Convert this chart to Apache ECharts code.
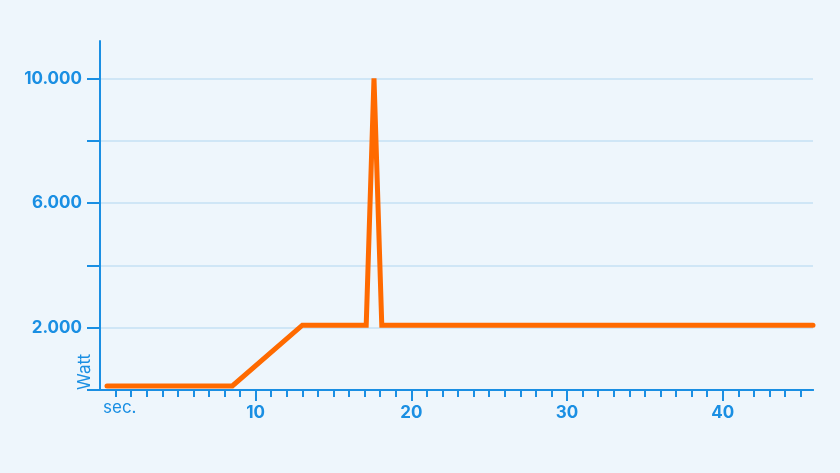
<!DOCTYPE html>
<html>
<head>
<meta charset="utf-8">
<script src="https://cdn.jsdelivr.net/npm/echarts@6/dist/echarts.min.js"></script>
<style>
  html, body { margin: 0; padding: 0; background: #eef6fc; }
  #chart { width: 840px; height: 473px; }
</style>
</head>
<body>
<div id="chart"></div>
<script>
// time in seconds
const seconds = [0.45, 8.5, 13.0, 17.1, 17.6, 18.1, 45.8];
// power in watt
const watts = [130, 130, 2080, 2080, 10000, 2080, 2080];
// axis tick values
const yTickValues = [0, 2000, 4000, 6000, 8000, 10000];
const yLabelValues = [2000, 6000, 10000];
const xLabelValues = [10, 20, 30, 40];
const xMinorTickValues = [];
for (let i = 1; i <= 45; i++) xMinorTickValues.push(i);

const blue = '#1a8fe3';
const font = 'Inter';
const fmt = v => v.toLocaleString('de-DE');

const chart = echarts.init(document.getElementById('chart'));
chart.setOption({
  backgroundColor: '#eef6fc',
  animation: false,
  grid: { left: 100, right: 27, top: 41, bottom: 83, containLabel: false, outerBoundsMode: 'none' },
  xAxis: [{
    type: 'value', min: 0, max: 45.8,
    name: 'sec.', nameLocation: 'start', nameGap: 0,
    nameTextStyle: { color: blue, fontFamily: font, fontSize: 17, align: 'left', verticalAlign: 'top', padding: [9, 0, 0, 3] },
    axisLine: { show: true, lineStyle: { color: blue, width: 2 } },
    axisTick: { show: true, length: 11, lineStyle: { color: blue, width: 2 }, customValues: xLabelValues },
    axisLabel: { color: blue, fontFamily: font, fontWeight: 'bold', fontSize: 17, margin: 14, customValues: xLabelValues },
    splitLine: { show: false }
  }, {
    type: 'value', min: 0, max: 45.8, position: 'bottom',
    axisLine: { show: true, lineStyle: { color: blue, width: 2 } },
    axisTick: { show: true, length: 7, lineStyle: { color: blue, width: 2 }, customValues: xMinorTickValues },
    axisLabel: { show: false },
    splitLine: { show: false }
  }],
  yAxis: {
    type: 'value', min: 0, max: 11200,
    name: 'Watt', nameLocation: 'start', nameGap: 0, nameRotate: 90,
    nameTextStyle: { color: blue, fontFamily: font, fontSize: 17, align: 'left', verticalAlign: 'bottom', padding: [0, 0, 7, 0] },
    axisLine: { show: true, lineStyle: { color: blue, width: 2 } },
    axisTick: { show: true, length: 13, lineStyle: { color: blue, width: 2 }, customValues: yTickValues },
    axisLabel: { color: blue, fontFamily: font, fontWeight: 'bold', fontSize: 17, margin: 18, customValues: yLabelValues, formatter: fmt },
    splitLine: { show: true, lineStyle: { color: '#cfe6f6', width: 2 } }
  },
  series: [{
    type: 'line',
    xAxisIndex: 0,
    data: seconds.map((s, i) => [s, watts[i]]),
    showSymbol: false,
    clip: false,
    lineStyle: { color: '#ff6a00', width: 5, cap: 'round', join: 'miter' }
  }]
});
</script>
</body>
</html>
